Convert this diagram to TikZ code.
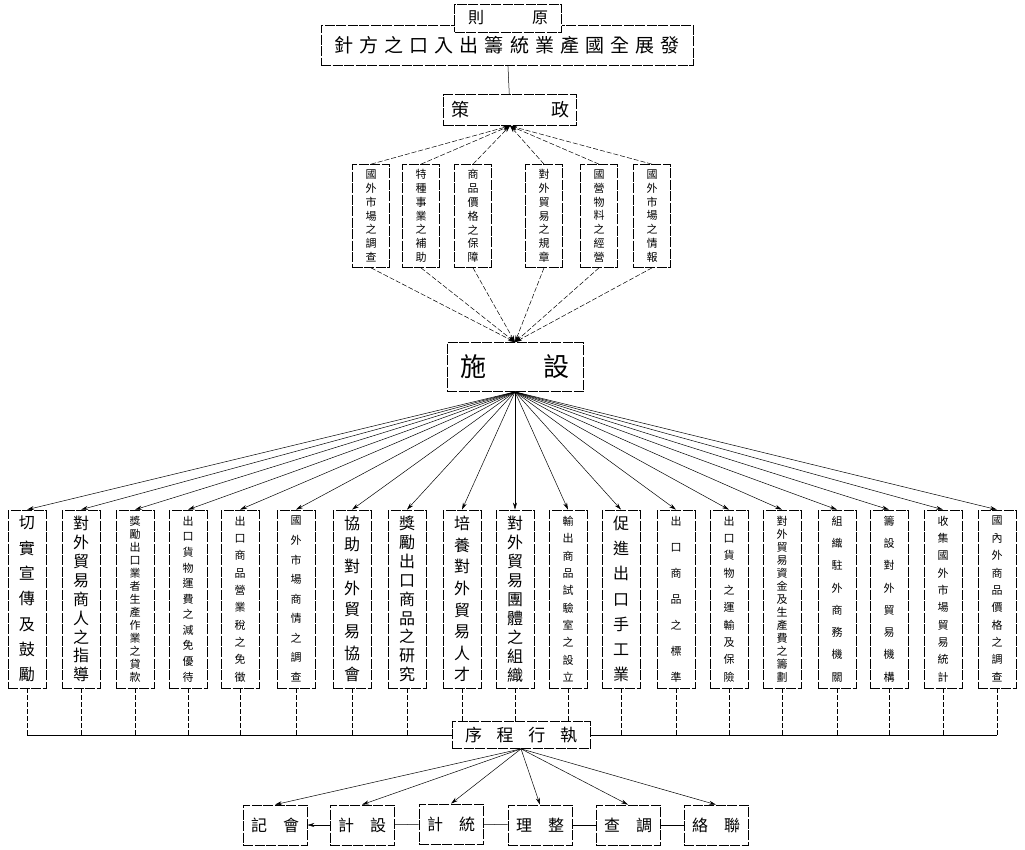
\documentclass[tikz,border=0pt]{standalone}
\usepackage{fontspec}
\newfontfamily\cjk{Noto Sans CJK TC}
\usetikzlibrary{arrows.meta,positioning}

% spread characters across a fixed width / down a fixed height
\makeatletter
\def\spr@loop#1{#1\spr@next}
\def\spr@next#1{\ifx\relax#1\else\hfil\expandafter\spr@loop\expandafter#1\fi}
\newcommand\spread[2]{\makebox[#1][s]{\spr@loop#2\relax}}
\def\col@loop#1{#1\col@next}
\def\col@next#1{\ifx\relax#1\else\par\vfill\expandafter\col@loop\expandafter#1\fi}
\newcommand\vcol[2]{\parbox[c][#1][s]{1.3em}{\centering\col@loop#2\relax}}
\makeatother

\begin{document}
\begin{tikzpicture}[x=1pt,y=-1pt,
    box/.style={draw, line width=0.7pt, dash pattern=on 10pt off 1.5pt, fill=white, inner sep=0pt},
    mbox/.style={box, minimum width=37pt, minimum height=103pt, font=\cjk\fontsize{11}{12}\selectfont},
    lbox/.style={box, minimum width=38pt, minimum height=178pt, font=\cjk\fontsize{11}{12}\selectfont},
    big/.style={font=\cjk\fontsize{16}{17}\selectfont},
    sbox/.style={box, minimum width=64pt, minimum height=40pt, font=\cjk\fontsize{16}{17}\selectfont},
    arr/.style={-{Stealth[length=7pt,width=4pt]}, line width=0.5pt},
    ln/.style={line width=0.5pt},
    dln/.style={line width=0.5pt, dash pattern=on 5pt off 2pt}
]
\useasboundingbox (0,0) rectangle (1025,849);

% top
\node[box, minimum width=372pt, minimum height=40pt, font=\cjk\fontsize{19}{20}\selectfont] (aim) at (507,45) {\spread{345pt}{針方之口入出籌統業產國全展發}};
\node[box, minimum width=107pt, minimum height=28pt, font=\cjk\fontsize{16}{17}\selectfont] (rule) at (508,18) {\spread{80pt}{則原}};
\node[box, minimum width=133pt, minimum height=31pt, font=\cjk\fontsize{18}{19}\selectfont] (policy) at (510,110) {\spread{118pt}{策政}};

% policy items
\node[mbox] (m1) at (371,216) {\vcol{92pt}{國外市場之調查}};
\node[mbox] (m2) at (421,216) {\vcol{92pt}{特種事業之補助}};
\node[mbox] (m3) at (473,216) {\vcol{92pt}{商品價格之保障}};
\node[mbox] (m4) at (544,216) {\vcol{92pt}{對外貿易之規章}};
\node[mbox] (m5) at (599,216) {\vcol{92pt}{國營物料之經營}};
\node[mbox] (m6) at (652,216) {\vcol{92pt}{國外市場之情報}};

\node[box, minimum width=136pt, minimum height=49pt, font=\cjk\fontsize{26}{27}\selectfont] (facil) at (515,367) {\spread{110pt}{施設}};

% facilities
\node[lbox, big] (b1) at (27,599) {\vcol{165pt}{切實宣傳及鼓勵}};
\node[lbox, big] (b2) at (81,599) {\vcol{165pt}{對外貿易商人之指導}};
\node[lbox] (b3) at (135,599) {\vcol{165pt}{獎勵出口業者生產作業之貸款}};
\node[lbox] (b4) at (188,599) {\vcol{165pt}{出口貨物運費之減免優待}};
\node[lbox] (b5) at (240,599) {\vcol{165pt}{出口商品營業稅之免徵}};
\node[lbox] (b6) at (296,599) {\vcol{165pt}{國外市場商情之調查}};
\node[lbox, big] (b7) at (352,599) {\vcol{165pt}{協助對外貿易協會}};
\node[lbox, big] (b8) at (407,599) {\vcol{165pt}{獎勵出口商品之研究}};
\node[lbox, big] (b9) at (462,599) {\vcol{165pt}{培養對外貿易人才}};
\node[lbox, big] (b10) at (515,599) {\vcol{165pt}{對外貿易團體之組織}};
\node[lbox] (b11) at (568,599) {\vcol{165pt}{輸出商品試驗室之設立}};
\node[lbox, big] (b12) at (621,599) {\vcol{165pt}{促進出口手工業}};
\node[lbox] (b13) at (676,599) {\vcol{165pt}{出口商品之標準}};
\node[lbox] (b14) at (729,599) {\vcol{165pt}{出口貨物之運輸及保險}};
\node[lbox] (b15) at (782,599) {\vcol{165pt}{對外貿易資金及生產費之籌劃}};
\node[lbox] (b16) at (837,599) {\vcol{165pt}{組織駐外商務機關}};
\node[lbox] (b17) at (889,599) {\vcol{165pt}{籌設對外貿易機構}};
\node[lbox] (b18) at (943,599) {\vcol{165pt}{收集國外市場貿易統計}};
\node[lbox] (b19) at (997,599) {\vcol{165pt}{國內外商品價格之調查}};

\node[box, minimum width=138pt, minimum height=27pt, font=\cjk\fontsize{17}{18}\selectfont] (exec) at (521,735) {\spread{112pt}{序程行執}};

% procedure
\node[sbox] (s1) at (275,825) {\spread{48pt}{記會}};
\node[sbox] (s2) at (362,825) {\spread{48pt}{計設}};
\node[sbox] (s3) at (451,824) {\spread{48pt}{計統}};
\node[sbox] (s4) at (540,825) {\spread{48pt}{理整}};
\node[sbox] (s5) at (628,825) {\spread{48pt}{查調}};
\node[sbox] (s6) at (716,825) {\spread{48pt}{絡聯}};

\draw[ln] (aim) -- (policy);
\foreach \i in {1,...,6} {
  \draw[arr, dln] (m\i.north) -- (policy.south);
  \draw[arr, dln] (m\i.south) -- (facil.north);
}
\foreach \i in {1,...,19}
  \draw[arr] (facil.south) -- (b\i.north);
\foreach \i in {1,...,8,12,13,...,19}
  \draw[dln] (b\i.south) -- (b\i.south |- exec.west);
\foreach \i in {9,10,11}
  \draw[dln] (b\i.south) -- (b\i.south |- exec.north);
\draw[ln] (b1.south |- exec.west) -- (exec.west);
\draw[ln] (exec.east) -- (b19.south |- exec.east);
\foreach \i in {1,...,6}
  \draw[arr] (exec.south) -- (s\i.north);
\draw[arr] (s2) -- (s1);
\draw[ln] (s2) -- (s3);
\draw[ln] (s3) -- (s4);
\draw[ln] (s4) -- (s5);
\draw[ln] (s5) -- (s6);
\end{tikzpicture}
\end{document}
